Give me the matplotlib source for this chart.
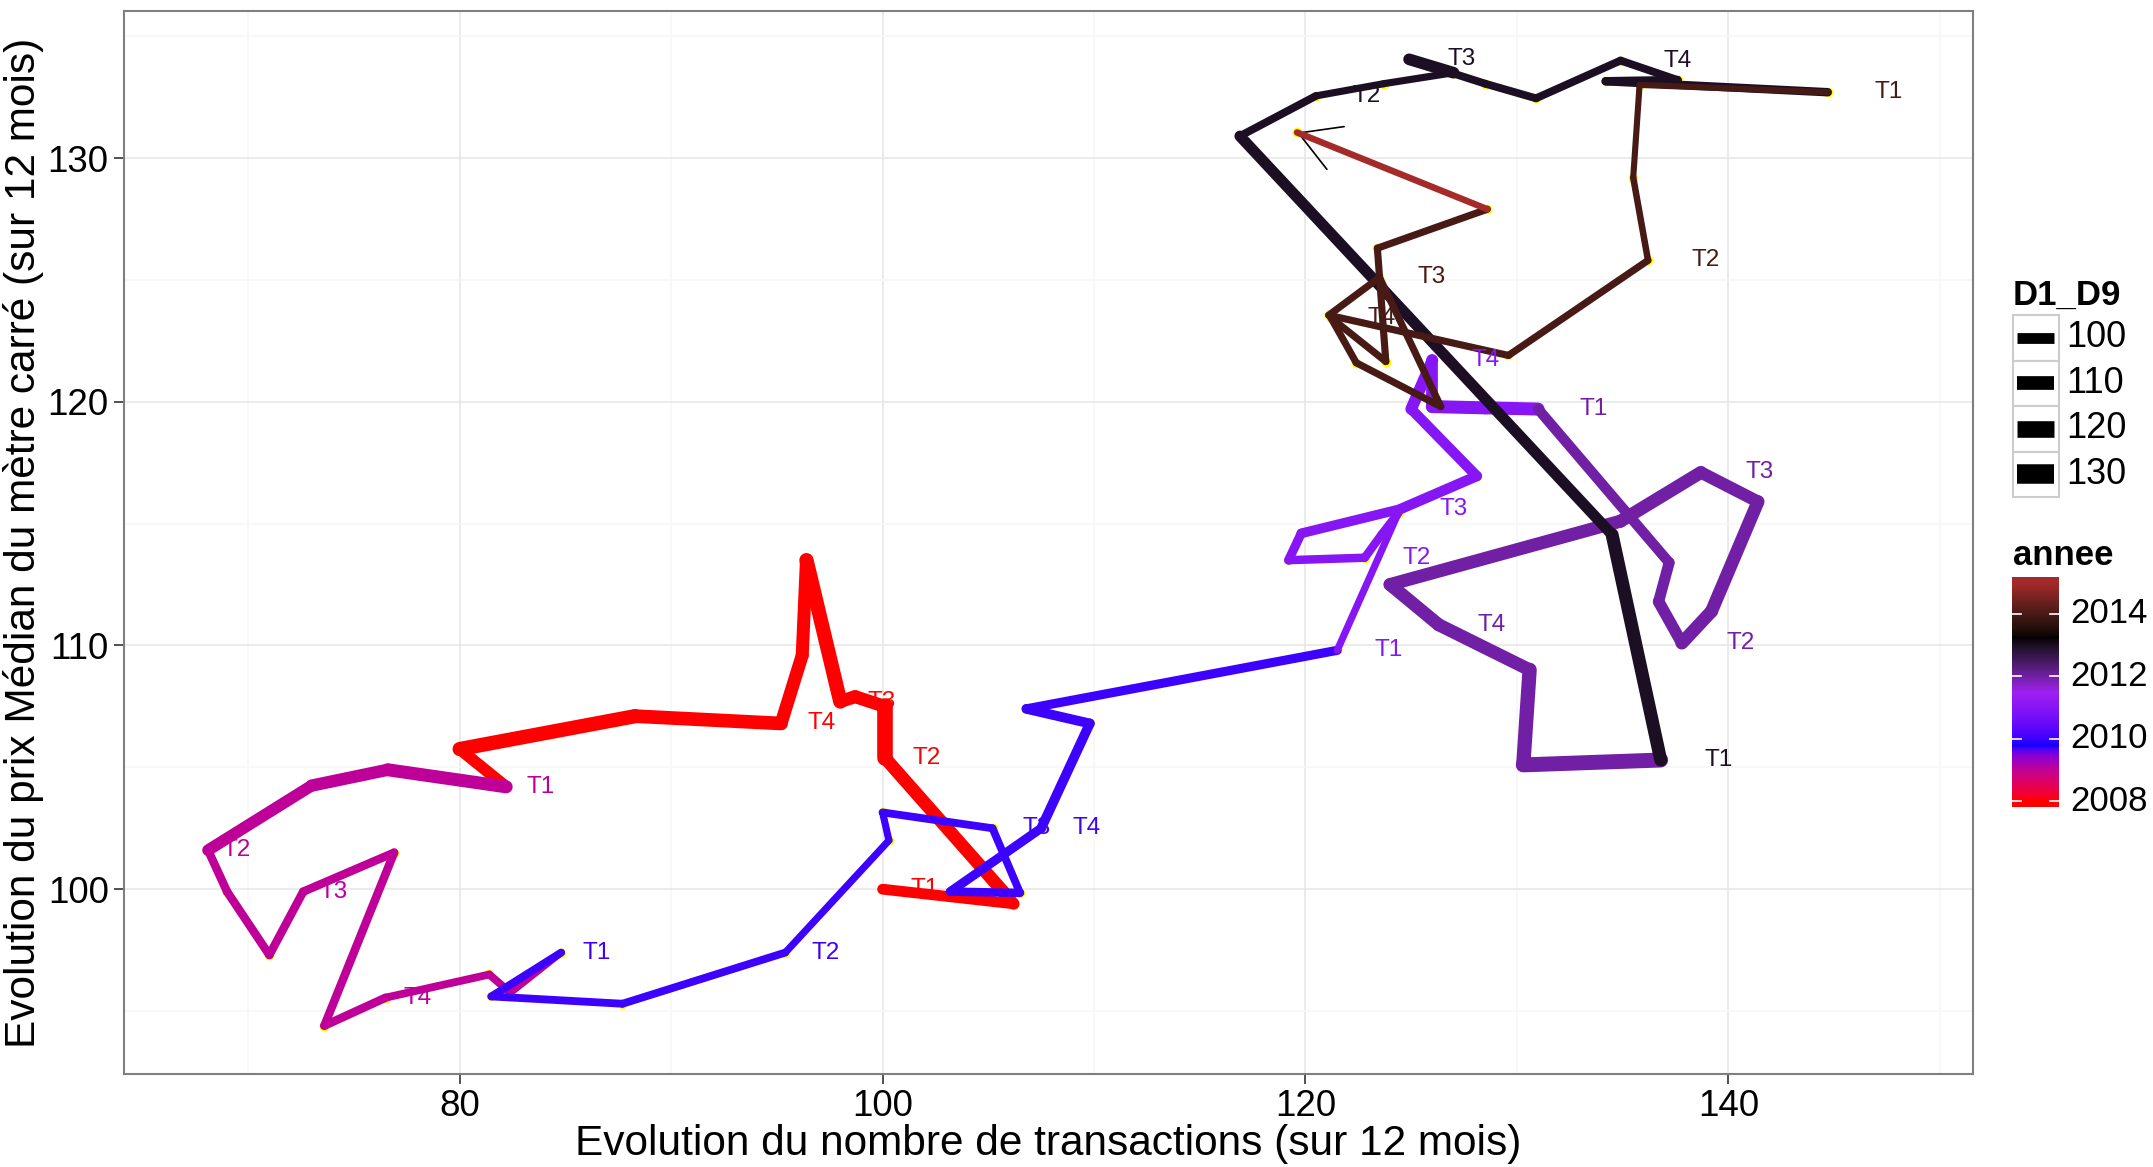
import numpy as np
import matplotlib
matplotlib.use("Agg")
import matplotlib.pyplot as plt
from matplotlib.collections import LineCollection
from matplotlib.colors import ListedColormap, to_rgb
from matplotlib.patches import Rectangle

plt.rcParams['font.family'] = ['Liberation Sans', 'DejaVu Sans']

# ======================================================
# DATA  (one value per month, Jan 2008 -> Feb 2015)
# ======================================================
transactions = [
    100.0, 106.2, 105.8, 100.1, 100.1, 98.7, 98.0, 96.4, 96.2, 95.2, 88.3, 80.0,
    82.2, 76.6, 73.0, 68.1, 69.0, 71.0, 72.6, 76.9, 73.6, 76.5, 81.4, 82.4,
    84.8, 81.5, 87.7, 95.4, 100.3, 100.0, 105.2, 106.5, 103.2, 107.5, 109.8, 106.8,
    121.5, 124.4, 123.6, 122.8, 119.2, 119.8, 124.5, 128.1, 125.0, 126.0, 126.0, 128.5,
    131.0, 137.2, 136.7, 137.8, 139.2, 141.4, 138.7, 134.9, 124.0, 126.3, 130.6, 130.3,
    136.8, 134.5, 116.9, 120.5, 123.7, 127.0, 124.9, 128.5, 130.9, 134.9, 137.6, 134.2,
    144.7, 135.8, 135.5, 136.2, 129.6, 121.1, 123.5, 126.4, 122.4, 121.2, 123.8, 123.4,
    128.6, 119.6,
]
prix = [
    100.0, 99.4, 99.8, 105.4, 107.5, 107.9, 107.7, 113.5, 109.6, 106.8, 107.1, 105.75,
    104.2, 104.9, 104.25, 101.6, 99.9, 97.3, 99.9, 101.5, 94.4, 95.55, 96.5, 95.75,
    97.4, 95.6, 95.3, 97.4, 102.0, 103.15, 102.5, 99.85, 99.9, 102.5, 106.8, 107.4,
    109.8, 115.45, 114.55, 113.6, 113.5, 114.6, 115.6, 116.95, 119.7, 121.7, 119.8, 119.75,
    119.7, 113.4, 111.8, 110.1, 111.4, 115.9, 117.1, 115.1, 112.5, 110.85, 109.0, 105.1,
    105.3, 114.55, 130.9, 132.55, 133.05, 133.5, 134.05, 133.05, 132.45, 134.0, 133.2, 133.15,
    132.7, 133.0, 129.2, 125.8, 121.9, 123.55, 125.1, 119.8, 121.6, 123.45, 121.65, 126.3,
    127.9, 131.05,
]
d1_d9 = [
    100.0, 103.1, 107.6, 116.6, 107.6, 107.6, 112.1, 107.6, 107.6, 109.9, 112.1, 103.1,
    107.6, 105.4, 103.1, 91.9, 91.9, 91.9, 91.9, 91.9, 91.9, 89.7, 89.7, 87.4,
    89.7, 89.7, 89.7, 87.4, 87.4, 89.7, 89.7, 91.9, 94.2, 96.4, 96.4, 94.2,
    87.4, 91.9, 91.9, 91.9, 94.2, 96.4, 98.7, 98.7, 103.1, 103.1, 107.6, 107.6,
    98.7, 100.9, 103.1, 107.6, 107.6, 105.4, 107.6, 107.6, 107.6, 107.6, 112.1, 114.3,
    107.6, 100.9, 89.7, 87.4, 87.4, 103.1, 89.7, 89.7, 89.7, 89.7, 91.9, 91.9,
    83.9, 83.9, 85.2, 87.4, 87.4, 87.4, 87.4, 87.4, 87.4, 87.4, 87.4, 87.4,
    85.2, 85.2,
]
annee = [
    2008, 2008, 2008, 2008, 2008, 2008, 2008, 2008, 2008, 2008, 2008, 2008,
    2009, 2009, 2009, 2009, 2009, 2009, 2009, 2009, 2009, 2009, 2009, 2009,
    2010, 2010, 2010, 2010, 2010, 2010, 2010, 2010, 2010, 2010, 2010, 2010,
    2011, 2011, 2011, 2011, 2011, 2011, 2011, 2011, 2011, 2011, 2011, 2011,
    2012, 2012, 2012, 2012, 2012, 2012, 2012, 2012, 2012, 2012, 2012, 2012,
    2013, 2013, 2013, 2013, 2013, 2013, 2013, 2013, 2013, 2013, 2013, 2013,
    2014, 2014, 2014, 2014, 2014, 2014, 2014, 2014, 2014, 2014, 2014, 2014,
    2015, 2015,
]
trimestre = [
    "T1", "", "", "T2", "", "", "T3", "", "", "T4", "", "",
    "T1", "", "", "T2", "", "", "T3", "", "", "T4", "", "",
    "T1", "", "", "T2", "", "", "T3", "", "", "T4", "", "",
    "T1", "", "", "T2", "", "", "T3", "", "", "T4", "", "",
    "T1", "", "", "T2", "", "", "T3", "", "", "T4", "", "",
    "T1", "", "", "T2", "", "", "T3", "", "", "T4", "", "",
    "T1", "", "", "T2", "", "", "T3", "", "", "T4", "", "",
    "", "",
]

size_breaks = [100, 110, 120, 130]
year_breaks = [2008, 2010, 2012, 2014]
gradient = ["red", "blue", "purple", "black", "brown"]   # R colour names
r_colours = {"purple": "#A020F0", "brown": "#A52A2A"}

# ======================================================
# SCALES (colour gradient in Lab space, like ggplot)
# ======================================================
W, H, DPI = 2153, 1167, 100
year_min, year_max = 2008, 2015


def rgb_to_lab(rgb):
    rgb = np.asarray(rgb, float)
    c = np.where(rgb <= 0.04045, rgb / 12.92, ((rgb + 0.055) / 1.055) ** 2.4)
    M = np.array([[0.4124564, 0.3575761, 0.1804375],
                  [0.2126729, 0.7151522, 0.0721750],
                  [0.0193339, 0.1191920, 0.9503041]])
    xyz = c @ M.T / np.array([0.95047, 1.0, 1.08883])
    d = 6 / 29
    f = np.where(xyz > d ** 3, np.cbrt(xyz), xyz / (3 * d * d) + 4 / 29)
    return np.stack([116 * f[..., 1] - 16,
                     500 * (f[..., 0] - f[..., 1]),
                     200 * (f[..., 1] - f[..., 2])], axis=-1)


def lab_to_rgb(lab):
    lab = np.asarray(lab, float)
    fy = (lab[..., 0] + 16) / 116
    fx = fy + lab[..., 1] / 500
    fz = fy - lab[..., 2] / 200
    d = 6 / 29
    f = np.stack([fx, fy, fz], axis=-1)
    xyz = np.where(f > d, f ** 3, 3 * d * d * (f - 4 / 29))
    xyz = xyz * np.array([0.95047, 1.0, 1.08883])
    Minv = np.array([[3.2404542, -1.5371385, -0.4985314],
                     [-0.9692660, 1.8760108, 0.0415560],
                     [0.0556434, -0.2040259, 1.0572252]])
    c = np.clip(xyz @ Minv.T, 0, 1)
    rgb = np.where(c <= 0.0031308, 12.92 * c, 1.055 * c ** (1 / 2.4) - 0.055)
    return np.clip(rgb, 0, 1)


node_lab = rgb_to_lab([to_rgb(r_colours.get(c, c)) for c in gradient])
node_pos = np.linspace(0, 1, len(gradient))


def year_colour(v):
    p = np.clip((np.asarray(v, float) - year_min) / (year_max - year_min), 0, 1)
    lab = np.stack([np.interp(p, node_pos, node_lab[:, k]) for k in range(3)], axis=-1)
    return lab_to_rgb(lab)


def width_pt(d):
    px = 10.8 + 0.29 * (np.asarray(d, float) - 100)
    return px * 72 / DPI


x = np.array(transactions)
y = np.array(prix)
yr = np.array(annee)

# ======================================================
# FIGURE
# ======================================================
fig = plt.figure(figsize=(W / DPI, H / DPI), dpi=DPI)
px0, px1, py0, py1 = 124, 1973, 11, 1074
ax = fig.add_axes([px0 / W, 1 - py1 / H, (px1 - px0) / W, (py1 - py0) / H])

# path, one segment per month, coloured/sized by its start month
pts = np.column_stack([x, y])
segs = np.stack([pts[:-1], pts[1:]], axis=1)
lc = LineCollection(segs, colors=year_colour(yr[:-1]), linewidths=width_pt(d1_d9[:-1]),
                    capstyle="round", joinstyle="round", zorder=3)

ax.scatter(x, y, s=50, color="yellow", linewidths=0, zorder=1.5)
ax.annotate("", xy=(x[-1], y[-1]), xytext=(x[-2], y[-2]), zorder=2,
            arrowprops=dict(arrowstyle="->,head_length=2.87,head_width=1.66",
                            color="black", lw=1.2, shrinkA=0, shrinkB=0,
                            mutation_scale=10))
ax.add_collection(lc)

# quarter labels
lab_idx = [i for i, t in enumerate(trimestre) if t]
for i in lab_idx:
    ax.text(x[i] * 1.02, y[i], trimestre[i], color=year_colour(yr[i]),
            fontsize=17.5, ha="center", va="center", zorder=4)

# limits: data + labels, 5% expansion
lx = np.concatenate([x, x[lab_idx] * 1.02])
xr = lx.max() - lx.min()
yrng = y.max() - y.min()
ax.set_xlim(lx.min() - 0.05 * xr, lx.max() + 0.05 * xr)
ax.set_ylim(y.min() - 0.05 * yrng, y.max() + 0.05 * yrng)

ax.set_xticks([80, 100, 120, 140])
ax.set_xticks([70, 90, 110, 130, 150], minor=True)
ax.set_yticks([100, 110, 120, 130])
ax.set_yticks([95, 105, 115, 125, 135], minor=True)
ax.grid(which="major", color="#E5E5E5", lw=1.1)
ax.grid(which="minor", color="#F7F7F7", lw=1.1)
ax.set_axisbelow(True)
ax.tick_params(which="major", length=7, width=1.2, color="#333333",
               labelsize=26.5, labelcolor="black", pad=4)
ax.tick_params(which="minor", length=0)
for s in ax.spines.values():
    s.set_color("#7F7F7F")
    s.set_linewidth(1.5)

fig.text((px0 + px1) / 2 / W, 1 - 1144 / H, "Evolution du nombre de transactions (sur 12 mois)",
         fontsize=30.5, ha="center", va="center")
fig.text(24 / W, 1 - (py0 + py1) / 2 / H, "Evolution du prix Médian du mètre carré (sur 12 mois)",
         fontsize=30.5, ha="center", va="center", rotation=90)

# ======================================================
# LEGENDS (pixel coordinates)
# ======================================================
lax = fig.add_axes([0, 0, 1, 1])
lax.set_xlim(0, W)
lax.set_ylim(H, 0)
lax.axis("off")

lax.text(2013, 305, "D1_D9", fontsize=25, fontweight="bold", va="baseline")
key = 45.5
for k, val in enumerate(size_breaks):
    top = 315 + k * key
    lax.add_patch(Rectangle((2013, top), key, key, facecolor="white",
                            edgecolor="#CCCCCC", lw=1.5))
    lax.plot([2017, 2054], [top + key / 2] * 2, color="black",
             lw=width_pt(val), solid_capstyle="butt")
    lax.text(2066, top + key / 2, str(val), fontsize=26, va="center")

lax.text(2013, 565, "annee", fontsize=25, fontweight="bold", va="baseline")
bar_top, bar_bot, bar_l, bar_r = 577, 807, 2012, 2059
cax = fig.add_axes([bar_l / W, 1 - bar_bot / H, (bar_r - bar_l) / W, (bar_bot - bar_top) / H])
edge = (year_max - year_min) / 38
vals = np.linspace(year_min - edge, year_max + edge, 300)
cmap = ListedColormap(year_colour(np.linspace(year_min, year_max, 256)))
cax.imshow(vals[:, None], aspect="auto", origin="lower", cmap=cmap,
           vmin=year_min, vmax=year_max,
           extent=[0, 1, year_min - edge, year_max + edge])
cax.set_xlim(0, 1)
cax.set_ylim(year_min - edge, year_max + edge)
cax.axis("off")
for v in year_breaks:
    cax.plot([0, 0.2], [v, v], color="white", lw=1.2)
    cax.plot([0.8, 1], [v, v], color="white", lw=1.2)
    cax.text(1.25, v, str(v), fontsize=25, va="center",
             transform=cax.get_yaxis_transform())

fig.savefig("out.png", dpi=DPI)
